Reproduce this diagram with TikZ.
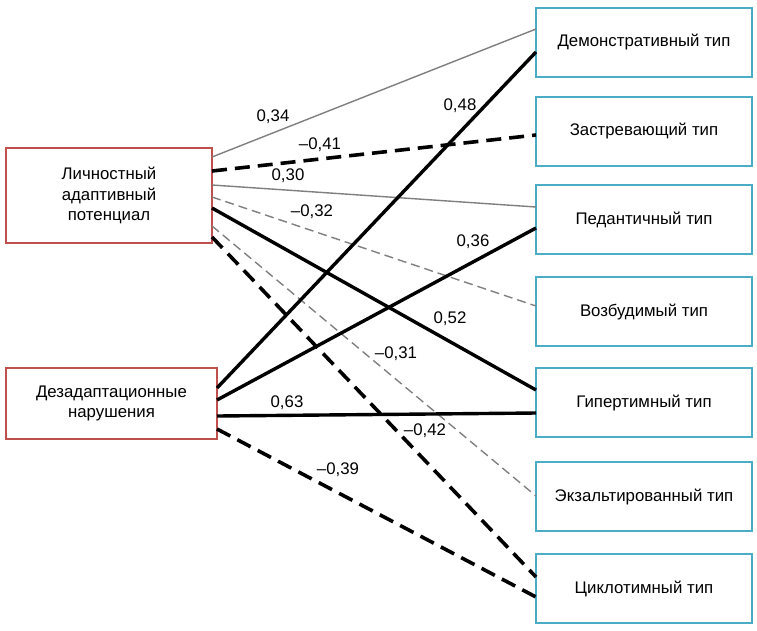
\documentclass[tikz,border=0pt]{standalone}
\usepackage{fontspec}
\setmainfont{Liberation Sans}
\usetikzlibrary{calc}
\definecolor{rbord}{HTML}{C0504D}
\definecolor{bbord}{HTML}{4BACC6}
\definecolor{thingray}{HTML}{7F7F7F}
\begin{document}
\begin{tikzpicture}[x=1pt,y=-1pt,
 rbox/.style={draw=bbord, line width=2.5pt, fill=white, minimum width=216pt, minimum height=69pt, inner sep=0pt, outer sep=0pt, font=\fontsize{16.8}{20}\selectfont},
 lbox/.style={draw=rbord, line width=2.5pt, fill=white, align=center, inner sep=0pt, outer sep=0pt, font=\fontsize{16.8}{20.5}\selectfont},
 thinsolid/.style={draw=thingray, line width=1.4pt},
 thindash/.style={draw=thingray, line width=1.4pt, dash pattern=on 9pt off 5pt},
 thicksolid/.style={draw=black, line width=3.4pt},
 thickdash/.style={draw=black, line width=3.6pt, dash pattern=on 15pt off 8pt},
 lab/.style={font=\fontsize{16.8}{19}\selectfont, inner sep=0pt}
]
\useasboundingbox (0,0) rectangle (757,630);
\fill[white] (0,0) rectangle (757,630);

\node[lbox, minimum width=206pt, minimum height=95pt] (L1) at (109,195.5) {Личностный\\адаптивный\\потенциал};
\node[lbox, minimum width=211pt, minimum height=71pt] (L2) at (111.5,403.5) {Дезадаптационные\\нарушения};

\node[rbox] (R1) at (644,42.5) {Демонстративный тип};
\node[rbox] (R2) at (644,131.5) {Застревающий тип};
\node[rbox] (R3) at (644,219.5) {Педантичный тип};
\node[rbox] (R4) at (644,311.5) {Возбудимый тип};
\node[rbox] (R5) at (644,402.5) {Гипертимный тип};
\node[rbox] (R6) at (644,496.5) {Экзальтированный тип};
\node[rbox] (R7) at (644,588.5) {Циклотимный тип};

% from L1
\draw[thinsolid]  ($(L1.north east)+(0,9)$)  -- ($(R1.north west)+(0,21)$);
\draw[thickdash]  ($(L1.north east)+(0,23)$) -- ($(R2.north west)+(0,38)$);
\draw[thinsolid]  ($(L1.north east)+(0,37)$) -- ($(R3.north west)+(0,22)$);
\draw[thindash]   ($(L1.north east)+(0,49)$) -- ($(R4.north west)+(0,29)$);
\draw[thicksolid] ($(L1.north east)+(0,60)$) -- ($(R5.north west)+(0,22)$);
\draw[thindash]   ($(L1.north east)+(0,78)$) -- ($(R6.north west)+(0,34)$);
\draw[thickdash]  ($(L1.north east)+(0,89)$) -- ($(R7.north west)+(0,23)$);
% from L2
\draw[thicksolid] ($(L2.north east)+(0,20)$) -- ($(R1.north west)+(0,44)$);
\draw[thicksolid] ($(L2.north east)+(0,32)$) -- ($(R3.north west)+(0,43)$);
\draw[thicksolid] ($(L2.north east)+(0,48)$) -- ($(R5.north west)+(0,45)$);
\draw[thickdash]  ($(L2.north east)+(0,61)$) -- ($(R7.north west)+(0,43)$);

\node[lab] (a1) at (273,117) {0,34};
\node[lab] (a2) at (320,145) {–0,41};
\node[lab] (a3) at (288,176) {0,30};
\node[lab] (a4) at (312,212) {–0,32};
\node[lab] (a5) at (460,106) {0,48};
\node[lab] (a6) at (473,242) {0,36};
\node[lab] (a7) at (450,319) {0,52};
\node[lab] (a8) at (396,354) {–0,31};
\node[lab] (a9) at (287,403) {0,63};
\node[lab] (a10) at (425,431) {–0,42};
\node[lab] (a11) at (338,470) {–0,39};
\end{tikzpicture}
\end{document}
